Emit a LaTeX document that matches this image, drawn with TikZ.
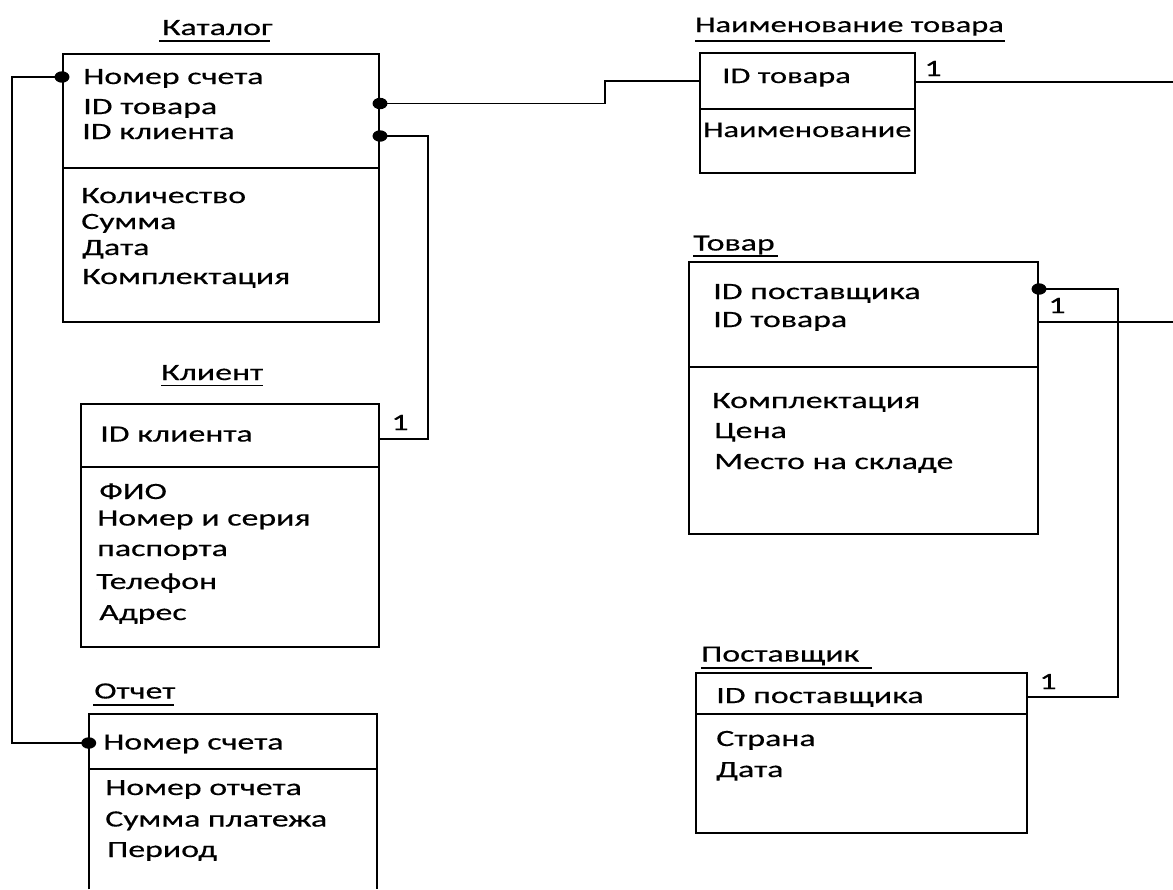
\documentclass[tikz,border=0pt]{standalone}
\usepackage{fontspec}
\setmainfont[FakeStretch=1.45,FakeBold=0.4]{Carlito}
\usetikzlibrary{fit}
\begin{document}
\begin{tikzpicture}[x=0.75pt,y=-0.75pt,
  entity/.style={draw, line width=1.5pt, inner sep=0pt},
  field/.style={anchor=base west, inner sep=0pt, font=\fontsize{17.5pt}{19pt}\selectfont},
  smallfield/.style={field, font=\fontsize{16.8pt}{18pt}\selectfont},
  heading/.style={field},
  uline/.style={line width=1.2pt},
  link/.style={line width=1.3pt},
  card/.style={anchor=base, inner sep=0pt, font=\fontsize{17.5pt}{19pt}\selectfont},
  fkdot/.style={fill=black}
]
\useasboundingbox (0,0) rectangle (1173,889);

% ---------- Каталог ----------
\node[heading] (tCat) at (162,35) {Каталог};
\node[entity, fit={(63,54) (379,322)}] (cat) {};
\draw[line width=1.5pt] (cat.west |- 0,168) -- (cat.east |- 0,168);
\node[field] (cat1) at (83,84) {Номер счета};
\node[field] (cat2) at (83,114) {ID товара};
\node[field] (cat3) at (82,139) {ID клиента};
\node[field] (cat4) at (81,203) {Количество};
\node[field] (cat5) at (81,229) {Сумма};
\node[field] (cat6) at (82,255) {Дата};
\node[field] (cat7) at (82,284) {Комплектация};

% ---------- Наименование товара ----------
\node[smallfield] (tNam) at (695,32) {Наименование товара};
\node[entity, fit={(700,53) (915,173)}] (nam) {};
\draw[line width=1.5pt] (nam.west |- 0,109) -- (nam.east |- 0,109);
\node[smallfield] (nam1) at (722,83) {ID товара};
\node[smallfield] (nam2) at (703,137) {Наименование};

% ---------- Клиент ----------
\node[heading] (tCli) at (161,380) {Клиент};
\node[entity, fit={(81,404) (379,647)}] (cli) {};
\draw[line width=1.5pt] (cli.west |- 0,467) -- (cli.east |- 0,467);
\node[field] (cli1) at (100,441.5) {ID клиента};
\node[field] (cli2) at (99,499) {ФИО};
\node[field] (cli3) at (97,525.5) {Номер и серия};
\node[field] (cli4) at (97,556) {паспорта};
\node[field] (cli5) at (96,589) {Телефон};
\node[field] (cli6) at (99,620) {Адрес};

% ---------- Отчет (runs past the lower edge) ----------
\node[heading] (tRep) at (94,698.5) {Отчет};
\node[inner sep=0pt, fit={(89,714.5) (377,889)}] (rep) {};
\draw[line width=1.5pt] (rep.south west) -- (rep.north west) -- (rep.north east) -- (rep.south east);
\draw[line width=1.5pt] (rep.west |- 0,768.5) -- (rep.east |- 0,768.5);
\node[field] (rep1) at (103,749.5) {Номер счета};
\node[field] (rep2) at (105,795) {Номер отчета};
\node[field] (rep3) at (105,826.5) {Сумма платежа};
\node[field] (rep4) at (107,857) {Период};

% ---------- Товар ----------
\node[heading] (tGoo) at (693,250.5) {Товар};
\node[entity, fit={(689,262) (1038,534)}] (goo) {};
\draw[line width=1.5pt] (goo.west |- 0,367) -- (goo.east |- 0,367);
\node[field] (goo1) at (713,299) {ID поставщика};
\node[field] (goo2) at (713,327) {ID товара};
\node[field] (goo3) at (712,408) {Комплектация};
\node[field] (goo4) at (714,438) {Цена};
\node[field] (goo5) at (714,469) {Место на складе};

% ---------- Поставщик ----------
\node[heading] (tSup) at (701,661.5) {Поставщик};
\node[entity, fit={(696,673) (1027,833)}] (sup) {};
\draw[line width=1.5pt] (sup.west |- 0,714) -- (sup.east |- 0,714);
\node[field] (sup1) at (716,703) {ID поставщика};
\node[field] (sup2) at (716,746) {Страна};
\node[field] (sup3) at (716,777) {Дата};

% ---------- title underlines ----------
\draw[uline] (159,40.7) -- (270,40.7);
\draw[uline] (695,40.7) -- (1005,40.7);
\draw[uline] (693,256) -- (778,256);
\draw[uline] (161,385.5) -- (263,385.5);
\draw[uline] (93,704.7) -- (174,704.7);
\draw[uline] (701,668) -- (872,668);

% ---------- connection ports ----------
\coordinate (pCatNum) at (cat.west |- 0,77);
\coordinate (pCatTov) at (cat.east |- 0,103.5);
\coordinate (pCatCli) at (cat.east |- 0,136);
\coordinate (pRepNum) at (rep.west |- 0,743);
\coordinate (pNamL)   at (nam.west |- 0,81);
\coordinate (pNamR)   at (nam.east |- 0,82);
\coordinate (pCliId)  at (cli.east |- 0,439);
\coordinate (pGooSup) at (goo.east |- 0,289);
\coordinate (pGooTov) at (goo.east |- 0,322);
\coordinate (pSupId)  at (sup.east |- 0,697);
\coordinate (eNam)    at (1173,82);
\coordinate (eGoo)    at (1173,322);

% ---------- relationships ----------
\draw[link] (pCatNum) -- ++(-50,0) |- (pRepNum);
\draw[link] (pCatTov) -- ++(225,0) |- (pNamL);
\draw[link] (pCatCli) -- ++(48,0) |- (pCliId);
\draw[link] (pNamR) -- (eNam);
\draw[link] (pGooSup) -- ++(79,0) |- (pSupId);
\draw[link] (pGooTov) -- (eGoo);

% foreign-key ends
\foreach \p in {pCatNum,pCatTov,pCatCli,pRepNum,pGooSup}
  \fill[fkdot] (\p) ellipse [x radius=5.6pt, y radius=4.3pt];

% cardinality marks
\node[card] (c1) at (933,76) {1};
\node[card] (c2) at (400,430) {1};
\node[card] (c3) at (1057,313) {1};
\node[card] (c4) at (1048,689) {1};
\end{tikzpicture}
\end{document}
